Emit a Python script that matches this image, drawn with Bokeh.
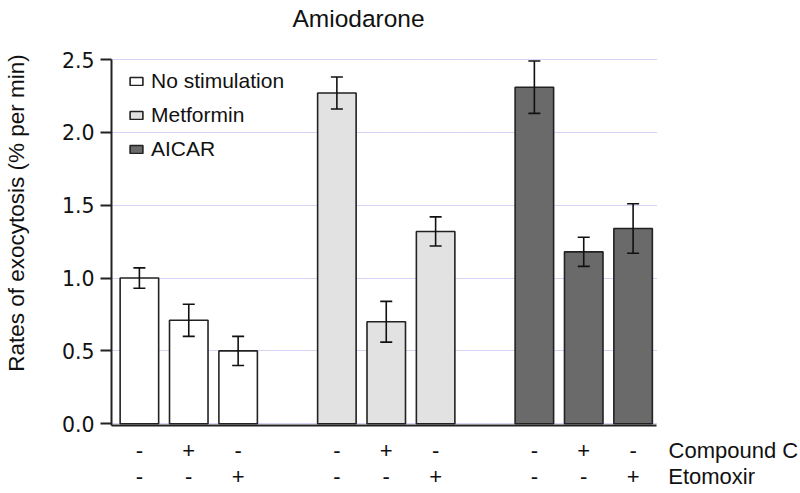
from bokeh.plotting import figure
from bokeh.models import (ColumnDataSource, Whisker, TeeHead, FixedTicker, LinearAxis,
                          Legend, LegendItem, Range1d, NumeralTickFormatter, Label)
from bokeh.embed import file_html
from bokeh.resources import INLINE

# ---------------- data ----------------
chart_title = "Amiodarone"
y_label = "Rates of exocytosis (% per min)"
groups = ["No stimulation", "Metformin", "AICAR"]
compound_c = ["-", "+", "-"]
etomoxir = ["-", "-", "+"]
row_names = ["Compound C", "Etomoxir"]
rates_none = [1.00, 0.71, 0.50]
rates_metformin = [2.27, 0.70, 1.32]
rates_aicar = [2.31, 1.18, 1.34]
sem_none = [0.07, 0.11, 0.10]
sem_metformin = [0.11, 0.14, 0.10]
sem_aicar = [0.18, 0.10, 0.17]
y_ticks = [0.0, 0.5, 1.0, 1.5, 2.0, 2.5]

# ---------------- layout / styles ----------------
fills = ["#ffffff", "#e2e2e2", "#6a6a6a"]
edge = "#222222"
sans = "Liberation Sans"
x_lo, bars_hi, x_hi = -0.565, 10.48, 13.35     # visible x extent; bar area ends at bars_hi
y_lo, y_top, y_hi = -0.012, 2.5, 2.905         # axis drawn from y_lo to y_top; room above for title
row_label_pos = [12.03, 11.59]                 # centres of the row-name texts

rates = [rates_none, rates_metformin, rates_aicar]
sems = [sem_none, sem_metformin, sem_aicar]
n_cond = len(compound_c)

p = figure(width=800, height=493, output_backend="svg", toolbar_location=None,
           x_range=Range1d(x_lo, x_hi), y_range=Range1d(y_lo, y_hi),
           min_border_left=108, min_border_right=2, min_border_top=0,
           min_border_bottom=68)
p.outline_line_color = None
p.background_fill_color = "white"
p.border_fill_color = "white"

p.xgrid.visible = False
p.ygrid.ticker = FixedTicker(ticks=y_ticks)
p.ygrid.grid_line_color = "#a8a8ee"
p.ygrid.grid_line_dash = "1 1"
p.ygrid.grid_line_width = 1
p.ygrid.cross_bounds = (x_lo, bars_hi)

all_pos = []
legend_items = []
for gi, g in enumerate(groups):
    xs = [gi * (n_cond + 1) + ci for ci in range(n_cond)]
    all_pos += xs
    src = ColumnDataSource(dict(
        x=xs, top=rates[gi],
        upper=[r + s for r, s in zip(rates[gi], sems[gi])],
        lower=[r - s for r, s in zip(rates[gi], sems[gi])]))
    r = p.vbar(x="x", top="top", width=0.78, bottom=0, source=src,
               fill_color=fills[gi], line_color=edge, line_width=1.6)
    legend_items.append(LegendItem(label=g, renderers=[r]))
    w = Whisker(base="x", upper="upper", lower="lower", source=src,
                line_color="#111111", line_width=1.6, level="overlay",
                upper_head=TeeHead(size=12, line_color="#111111", line_width=1.6),
                lower_head=TeeHead(size=12, line_color="#111111", line_width=1.6))
    p.add_layout(w)

# y axis
ya = p.yaxis[0]
ya.bounds = (y_lo, y_top)
ya.ticker = FixedTicker(ticks=y_ticks)
ya.formatter = NumeralTickFormatter(format="0.0")
ya.major_tick_out = 11
ya.major_tick_in = 0
ya.minor_tick_line_color = None
ya.axis_line_width = 2
ya.axis_line_color = edge
ya.major_tick_line_width = 2
ya.major_tick_line_color = edge
ya.major_label_text_font = "DejaVu Sans"
ya.major_label_text_font_size = "20.5px"
ya.major_label_text_color = "#111111"
ya.major_label_standoff = 6
ya.axis_label = y_label
ya.axis_label_text_font = sans
ya.axis_label_text_font_size = "22.5px"
ya.axis_label_text_font_style = "normal"
ya.axis_label_text_color = "#111111"
ya.axis_label_standoff = 30

# bottom axis line (bar area only)
xa = p.xaxis[0]
xa.ticker = FixedTicker(ticks=[])
xa.bounds = (x_lo, bars_hi)
xa.axis_line_width = 2
xa.axis_line_color = edge
xa.major_tick_line_color = None
xa.minor_tick_line_color = None
xa.major_label_text_font_size = "0px"
xa.major_label_standoff = 0

# two rows of +/- with their row names
def sign_axis(labels, name, name_pos, standoff):
    ax = LinearAxis()
    ticks = all_pos + [name_pos]
    ov = {pos: labels[i % n_cond] for i, pos in enumerate(all_pos)}
    ov[name_pos] = name
    ax.ticker = FixedTicker(ticks=ticks)
    ax.major_label_overrides = ov
    ax.axis_line_color = None
    ax.major_tick_line_color = None
    ax.minor_tick_line_color = None
    ax.major_label_text_font = sans
    ax.major_label_text_font_size = "22px"
    ax.major_label_text_color = "#111111"
    ax.major_label_standoff = standoff
    p.add_layout(ax, "below")

sign_axis(compound_c, row_names[0], row_label_pos[0], 6)
sign_axis(etomoxir, row_names[1], row_label_pos[1], -8)

# title (inside the headroom above the y axis)
p.add_layout(Label(x=181, y=407, x_units="screen", y_units="screen",
                   text=chart_title, text_font=sans, text_font_size="24.5px",
                   text_baseline="alphabetic", text_color="#111111"))

legend = Legend(items=legend_items, location=(17, 264), margin=0, padding=0,
                glyph_width=16, glyph_height=10, label_standoff=7,
                label_height=22, spacing=10,
                label_text_font=sans, label_text_font_size="21px",
                label_text_color="#111111",
                background_fill_alpha=0, border_line_color=None)
p.add_layout(legend)

open("out.html", "w").write(file_html(p, INLINE))
